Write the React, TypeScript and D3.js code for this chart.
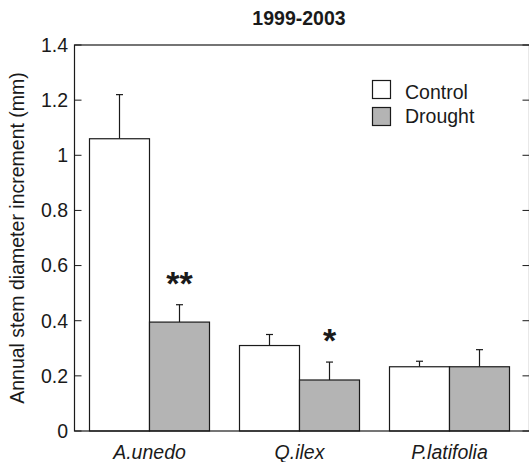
import React, { useEffect, useRef } from "react";
import * as d3 from "d3";

const species = ["A.unedo", "Q.ilex", "P.latifolia"];
const treatments = ["Control", "Drought"];
const controlMeans = [1.06, 0.31, 0.233];
const controlErrors = [0.16, 0.04, 0.02];
const droughtMeans = [0.395, 0.185, 0.233];
const droughtErrors = [0.063, 0.065, 0.062];
const significance = ["**", "*", ""];
const yTicks = [0, 0.2, 0.4, 0.6, 0.8, 1, 1.2, 1.4];

const FONT = "'Liberation Sans', Arial, Helvetica, sans-serif";
const fills: Record<string, string> = { Control: "#ffffff", Drought: "#b4b4b4" };
const STROKE = "#1a1a1a";

export default function App() {
  const ref = useRef<SVGSVGElement>(null);

  useEffect(() => {
    if (!ref.current) return;
    const left = 74.5;
    const top = 45;
    const bottom = 431;
    const right = 529.5;

    const svg = d3.select(ref.current);
    svg.selectAll("*").remove();

    const x = d3.scaleBand().domain(species).range([left, left + 450]);
    const inner = d3
      .scaleBand()
      .domain(treatments)
      .range([15, x.bandwidth() - 15]);
    const y = d3.scaleLinear().domain([0, 1.4]).range([bottom, top]);

    const rows = species.flatMap((s, i) => [
      { s, t: "Control", v: controlMeans[i], e: controlErrors[i] },
      { s, t: "Drought", v: droughtMeans[i], e: droughtErrors[i] },
    ]);

    // error bars (only the upper half shows above the bars)
    const err = svg.append("g").attr("stroke", STROKE).attr("stroke-width", 1.2);
    rows.forEach((d) => {
      const cx = (x(d.s) || 0) + (inner(d.t) || 0) + inner.bandwidth() / 2;
      err
        .append("line")
        .attr("x1", cx)
        .attr("x2", cx)
        .attr("y1", y(d.v))
        .attr("y2", y(d.v + d.e));
      err
        .append("line")
        .attr("x1", cx - 3.5)
        .attr("x2", cx + 3.5)
        .attr("y1", y(d.v + d.e))
        .attr("y2", y(d.v + d.e));
    });

    // bars
    svg
      .append("g")
      .selectAll("rect")
      .data(rows)
      .enter()
      .append("rect")
      .attr("x", (d) => (x(d.s) || 0) + (inner(d.t) || 0))
      .attr("y", (d) => y(d.v))
      .attr("width", inner.bandwidth())
      .attr("height", (d) => bottom - y(d.v))
      .attr("fill", (d) => fills[d.t])
      .attr("stroke", STROKE)
      .attr("stroke-width", 1.2);

    // frame
    svg
      .append("rect")
      .attr("x", left)
      .attr("y", top)
      .attr("width", right - left)
      .attr("height", bottom - top)
      .attr("fill", "none")
      .attr("stroke", STROKE)
      .attr("stroke-width", 1.2);

    // y ticks (inward on both sides)
    const ticks = svg.append("g");
    yTicks.forEach((t) => {
      ticks
        .append("line")
        .attr("x1", left)
        .attr("x2", left + 7)
        .attr("y1", y(t))
        .attr("y2", y(t))
        .attr("stroke", STROKE);
      ticks
        .append("line")
        .attr("x1", right - 7)
        .attr("x2", right)
        .attr("y1", y(t))
        .attr("y2", y(t))
        .attr("stroke", STROKE);
      ticks
        .append("text")
        .attr("x", left - 6.5)
        .attr("y", y(t) + 6.8)
        .attr("text-anchor", "end")
        .attr("font-family", FONT)
        .attr("font-size", 19.5)
        .attr("fill", STROKE)
        .text(String(+t.toFixed(1)));
    });

    // x labels
    svg
      .append("g")
      .selectAll("text")
      .data(species)
      .enter()
      .append("text")
      .attr("x", (d) => (x(d) || 0) + x.bandwidth() / 2)
      .attr("y", 459)
      .attr("text-anchor", "middle")
      .attr("font-family", FONT)
      .attr("font-style", "italic")
      .attr("font-size", 19.5)
      .attr("fill", STROKE)
      .text((d) => d);

    // significance stars
    svg
      .append("g")
      .selectAll("text")
      .data(species)
      .enter()
      .append("text")
      .attr("x", (d) => (x(d) || 0) + (inner("Drought") || 0) + inner.bandwidth() / 2)
      .attr("y", (d, i) => y(droughtMeans[i] + droughtErrors[i]) - 10)
      .attr("text-anchor", "middle")
      .attr("font-family", FONT)
      .attr("font-weight", "bold")
      .attr("font-size", 34)
      .attr("fill", STROKE)
      .text((d, i) => significance[i]);

    // title
    svg
      .append("text")
      .attr("x", 299)
      .attr("y", 25)
      .attr("text-anchor", "middle")
      .attr("font-family", FONT)
      .attr("font-weight", "bold")
      .attr("font-size", 19.5)
      .attr("fill", STROKE)
      .text("1999-2003");

    // y axis label
    svg
      .append("text")
      .attr("transform", `translate(24,${(top + bottom) / 2}) rotate(-90)`)
      .attr("text-anchor", "middle")
      .attr("font-family", FONT)
      .attr("font-size", 19.5)
      .attr("fill", STROKE)
      .text("Annual stem diameter increment (mm)");

    // legend
    const legend = svg.append("g");
    treatments.forEach((t, i) => {
      legend
        .append("rect")
        .attr("x", 372.5)
        .attr("y", 80.5 + i * 27)
        .attr("width", 18)
        .attr("height", 18)
        .attr("fill", fills[t])
        .attr("stroke", STROKE)
        .attr("stroke-width", 1.2);
      legend
        .append("text")
        .attr("x", 405)
        .attr("y", 99 + i * 23.5)
        .attr("font-family", FONT)
        .attr("font-size", 19.5)
        .attr("fill", STROKE)
        .text(t);
    });
  }, []);

  return (
    <svg
      ref={ref}
      width={529}
      height={462}
      style={{ position: "absolute", left: 0, top: 0, background: "#fff" }}
    />
  );
}
